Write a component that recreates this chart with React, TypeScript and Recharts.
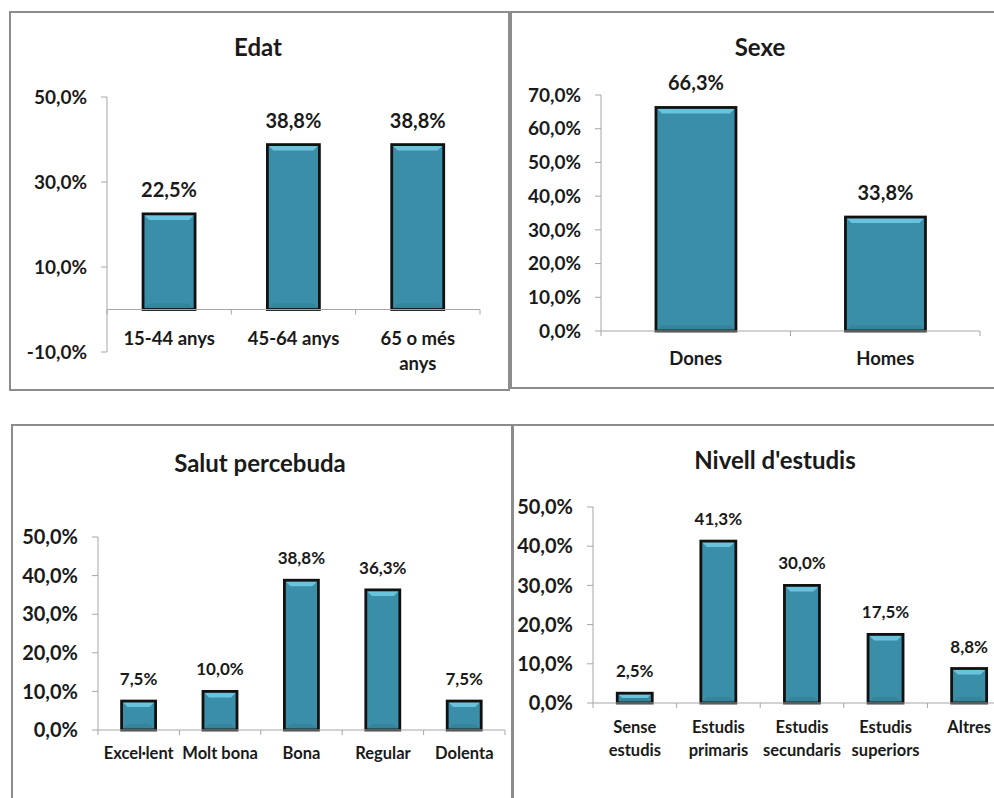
import { BarChart, Bar, XAxis, YAxis, LabelList, ReferenceLine } from 'recharts';

// Edat
const edatCats = ['15-44 anys', '45-64 anys', '65 o més\nanys'];
const edatVals = [22.5, 38.8, 38.8];
const edatTicks = [-10, 10, 30, 50];

// Sexe
const sexeCats = ['Dones', 'Homes'];
const sexeVals = [66.3, 33.8];
const sexeTicks = [0, 10, 20, 30, 40, 50, 60, 70];

// Salut percebuda
const salutCats = ['Excel·lent', 'Molt bona', 'Bona', 'Regular', 'Dolenta'];
const salutVals = [7.5, 10.0, 38.8, 36.3, 7.5];
const salutTicks = [0, 10, 20, 30, 40, 50];

// Nivell d'estudis
const estudisCats = ['Sense\nestudis', 'Estudis\nprimaris', 'Estudis\nsecundaris', 'Estudis\nsuperiors', 'Altres'];
const estudisVals = [2.5, 41.3, 30.0, 17.5, 8.8];
const estudisTicks = [0, 10, 20, 30, 40, 50];

const FONT = 'Lato, "Open Sans", sans-serif';
const INK = '#1a1a1a';
const AXIS = '#a6a6a6';
const FRAME = '#8c8c8c';
const YW = 80;
const XH = 30;

const pct = (v: number) => v.toFixed(1).replace('.', ',') + '%';

const BevelBar = (p: any) => {
  const { x, y, width, height } = p;
  if (!height || height <= 0) return null;
  const b = Math.min(6, height / 2, width / 2);
  return (
    <g>
      <rect x={x} y={y} width={width} height={height} fill="#3a8ea7" />
      <polygon
        points={`${x},${y} ${x + width},${y} ${x + width - b},${y + b} ${x + b},${y + b}`}
        fill="#68c4dd"
      />
      <polygon
        points={`${x},${y + height} ${x + width},${y + height} ${x + width - b},${y + height - b} ${x + b},${y + height - b}`}
        fill="#34849b"
      />
      <rect x={x} y={y} width={width} height={height} fill="none" stroke="#111" strokeWidth={2.8} />
    </g>
  );
};

type PanelProps = {
  box: { left: number; top: number; w: number; h: number };
  margin: { top: number; right: number; bottom: number; left: number };
  title: string;
  titleX: number;
  titleY: number;
  cats: string[];
  vals: number[];
  domain: [number, number];
  ticks: number[];
  tickSize: number;
  catSize: number;
  catDy: number;
  lineH: number;
  labelSize: number;
  labelOffset: number;
  zeroAxis?: boolean;
};

const Panel = (cfg: PanelProps) => {
  const { box, margin } = cfg;
  const data = cfg.cats.map((c, i) => ({ name: c, value: cfg.vals[i] }));
  const plotW = box.w - margin.left - margin.right - YW;
  const plotH = box.h - margin.top - margin.bottom - XH;
  const band = plotW / cfg.cats.length;
  // distance from the bottom of the plot up to the value 0
  const lift = cfg.zeroAxis ? (plotH * (0 - cfg.domain[0])) / (cfg.domain[1] - cfg.domain[0]) : 0;

  const renderCat = (p: any) => {
    const { x, y, payload, index, visibleTicksCount } = p;
    const y0 = y - lift;
    const half = band / 2;
    const lines = String(payload.value).split('\n');
    return (
      <g>
        <line x1={x - half} x2={x - half} y1={y0} y2={y0 + 5} stroke={AXIS} />
        {index === visibleTicksCount - 1 && (
          <line x1={x + half} x2={x + half} y1={y0} y2={y0 + 5} stroke={AXIS} />
        )}
        <text x={x} y={y0 + cfg.catDy} textAnchor="middle" fontFamily={FONT} fontWeight="bold" fontSize={cfg.catSize} fill={INK}>
          {lines.map((l, i) => (
            <tspan key={i} x={x} dy={i === 0 ? 0 : cfg.lineH}>
              {l}
            </tspan>
          ))}
        </text>
      </g>
    );
  };

  return (
    <>
      <div
        style={{
          position: 'absolute',
          left: cfg.titleX - 150,
          top: cfg.titleY - 14,
          width: 300,
          lineHeight: '28px',
          textAlign: 'center',
          fontFamily: FONT,
          fontWeight: 'bold',
          fontSize: 24,
          color: INK,
        }}
      >
        {cfg.title}
      </div>
      <div style={{ position: 'absolute', left: box.left, top: box.top }}>
        <BarChart width={box.w} height={box.h} data={data} margin={margin} barCategoryGap="29%">
          <XAxis
            dataKey="name"
            height={XH}
            interval={0}
            axisLine={cfg.zeroAxis ? false : { stroke: AXIS }}
            tickLine={false}
            tickSize={0}
            tickMargin={0}
            tick={renderCat}
          />
          <YAxis
            width={YW}
            type="number"
            domain={cfg.domain}
            ticks={cfg.ticks}
            interval={0}
            tickFormatter={pct}
            axisLine={{ stroke: AXIS }}
            tickLine={{ stroke: AXIS }}
            tickSize={6}
            tickMargin={14}
            tick={{ fill: INK, fontSize: cfg.tickSize, fontWeight: 'bold', fontFamily: FONT }}
          />
          {cfg.zeroAxis && <ReferenceLine y={0} stroke={AXIS} />}
          <Bar dataKey="value" shape={BevelBar} isAnimationActive={false}>
            <LabelList
              dataKey="value"
              position="top"
              offset={cfg.labelOffset}
              formatter={(v: any) => pct(Number(v))}
              fill={INK}
              fontSize={cfg.labelSize}
              fontWeight="bold"
              fontFamily={FONT}
            />
          </Bar>
        </BarChart>
      </div>
    </>
  );
};

const frame = (left: number, top: number, w: number, h: number) => (
  <div
    style={{
      position: 'absolute',
      left,
      top,
      width: w,
      height: h,
      border: `2px solid ${FRAME}`,
      boxSizing: 'border-box',
    }}
  />
);

export default function App() {
  return (
    <div
      style={{
        position: 'absolute',
        left: 0,
        top: 0,
        width: 994,
        height: 798,
        overflow: 'hidden',
        background: '#fff',
      }}
    >
      {frame(9, 11, 501, 380)}
      {frame(510, 11, 490, 378)}
      {frame(11, 424, 502, 390)}
      {frame(512, 424, 490, 390)}

      <Panel
        box={{ left: 10, top: 12, w: 500, h: 377 }}
        margin={{ top: 85, right: 30, bottom: 7, left: 17 }}
        title="Edat"
        titleX={258}
        titleY={47}
        cats={edatCats}
        vals={edatVals}
        domain={[-10, 50]}
        ticks={edatTicks}
        tickSize={19}
        catSize={18.5}
        catDy={35}
        lineH={25}
        labelSize={20}
        labelOffset={17}
        zeroAxis
      />
      <Panel
        box={{ left: 511, top: 12, w: 483, h: 376 }}
        margin={{ top: 83, right: 14, bottom: 27, left: 10 }}
        title="Sexe"
        titleX={760}
        titleY={47}
        cats={sexeCats}
        vals={sexeVals}
        domain={[0, 70]}
        ticks={sexeTicks}
        tickSize={19}
        catSize={18.5}
        catDy={34}
        lineH={25}
        labelSize={20}
        labelOffset={17}
      />
      <Panel
        box={{ left: 12, top: 425, w: 500, h: 373 }}
        margin={{ top: 112, right: 7, bottom: 38, left: 6 }}
        title="Salut percebuda"
        titleX={260}
        titleY={463}
        cats={salutCats}
        vals={salutVals}
        domain={[0, 50]}
        ticks={salutTicks}
        tickSize={20}
        catSize={16.5}
        catDy={29}
        lineH={23}
        labelSize={17}
        labelOffset={16}
      />
      <Panel
        box={{ left: 513, top: 425, w: 500, h: 373 }}
        margin={{ top: 82, right: 2, bottom: 65, left: 0 }}
        title="Nivell d'estudis"
        titleX={775}
        titleY={460}
        cats={estudisCats}
        vals={estudisVals}
        domain={[0, 50]}
        ticks={estudisTicks}
        tickSize={20}
        catSize={16.5}
        catDy={30}
        lineH={23}
        labelSize={17}
        labelOffset={16}
      />
    </div>
  );
}
